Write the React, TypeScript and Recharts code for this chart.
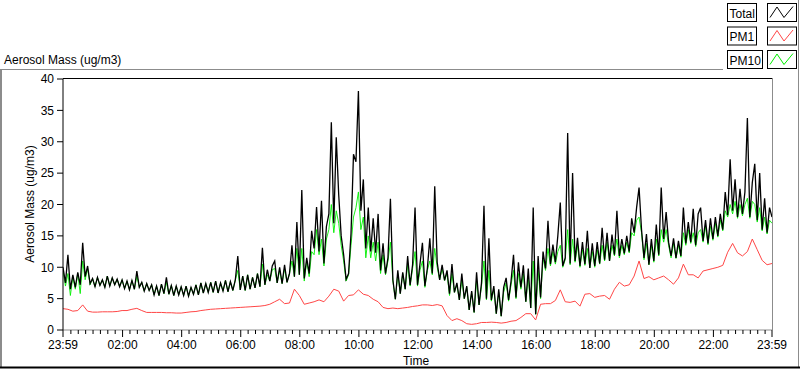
import React from "react";
import { LineChart, Line, XAxis, YAxis } from "recharts";

// Total mass, 5-minute steps from 23:59 (t = 0) to 23:59 (t = 1440)
const TOTAL: number[] = [
  10, 7.5, 12, 6.5, 8.8, 6.8, 9.2, 7.2, 13.9, 8.5, 10.2, 7.4,
  8.2, 6.9, 8.4, 7.1, 8.0, 6.8, 8.6, 7.0, 8.3, 7.2, 8.1, 6.9,
  8.0, 6.6, 7.8, 6.4, 7.9, 6.5, 9.4, 6.8, 7.6, 6.2, 7.4, 6.3,
  7.2, 5.6, 7.0, 5.5, 7.3, 5.8, 8.4, 5.7, 7.1, 5.5, 7.0, 5.6,
  6.9, 5.5, 7.0, 5.4, 6.8, 5.7, 7.2, 5.6, 7.5, 5.9, 7.4, 6.0,
  7.6, 6.0, 7.8, 5.9, 7.5, 6.2, 7.9, 6.1, 7.7, 6.3, 8.0, 11.8,
  6.4, 8.6, 6.3, 8.8, 6.5, 8.4, 6.7, 9.0, 6.9, 13.1, 7.2, 9.6,
  7.8, 10.2, 11.0, 7.5, 10.0, 7.4, 10.4, 7.6, 9.0, 13.5, 8.5, 17.2,
  8.8, 22.3, 8.2, 11.5, 9.0, 15.8, 13.0, 19.6, 12.5, 20.6, 10.6, 16.5,
  18.5, 33.1, 17.0, 30.7, 21.5, 15.0, 12.0, 8.1, 9.0, 15.4, 28.0, 26.8,
  38.1, 19.0, 24.0, 13.0, 19.5, 12.5, 17.8, 12.3, 18.5, 9.5, 13.8, 9.0,
  11.5, 20.9, 8.0, 4.9, 9.5, 5.8, 9.2, 6.5, 11.8, 7.2, 10.4, 19.5,
  7.2, 10.5, 13.9, 7.0, 9.8, 14.6, 9.0, 22.9, 10.8, 8.0, 10.4, 7.9,
  9.5, 5.8, 10.5, 6.0, 7.5, 4.8, 9.0, 5.0, 7.0, 3.2, 6.2, 2.8,
  9.2, 4.0, 7.5, 19.8, 5.0, 14.6, 4.8, 7.0, 2.6, 6.5, 2.2, 6.8,
  8.3, 4.8, 7.8, 12.0, 5.2, 10.8, 6.8, 10.3, 4.5, 9.8, 3.5, 19.5,
  2.5, 11.8, 5.2, 12.5, 9.8, 17.4, 10.5, 13.6, 10.8, 15.0, 20.3, 10.2,
  11.5, 31.4, 10.6, 25.0, 11.0, 14.7, 10.2, 14.0, 10.5, 15.8, 9.9, 13.8,
  10.2, 14.0, 10.6, 16.3, 11.2, 15.5, 11.0, 15.2, 12.0, 19.0, 11.8, 14.5,
  12.2, 15.0, 12.5, 17.8, 15.5, 19.5, 22.7, 16.0, 11.5, 15.3, 10.4, 14.5,
  11.0, 16.8, 12.0, 22.7, 14.5, 18.8, 14.0, 11.8, 14.6, 11.5, 14.2, 11.8,
  19.5, 13.8, 17.2, 14.0, 19.3, 13.5, 18.5, 19.5, 14.2, 17.5, 13.8, 17.8,
  14.5, 18.0, 15.0, 18.5, 16.0, 22.0, 18.3, 27.2, 19.0, 24.0, 18.0, 22.5,
  18.5, 22.0, 33.8, 18.0, 23.5, 26.5, 17.5, 25.0, 16.0, 21.0, 15.5, 19.5, 18.0,
];

// PM10, 5-minute steps (mostly hidden under Total, lower at the spikes)
const PM10: number[] = [
  9.5, 7.0, 9.0, 5.5, 8.5, 6.5, 9.0, 5.8, 11.0, 8.0, 9.8, 7.2,
  8.2, 6.9, 8.4, 7.1, 8.0, 6.8, 8.6, 7.0, 8.3, 7.2, 8.1, 6.9,
  8.0, 6.6, 7.8, 6.4, 7.9, 6.5, 8.6, 6.8, 7.6, 6.2, 7.4, 6.3,
  7.2, 5.6, 7.0, 5.5, 7.3, 5.8, 7.6, 5.7, 7.1, 5.5, 7.0, 5.6,
  6.9, 5.5, 7.0, 5.4, 6.8, 5.7, 7.2, 5.6, 7.5, 5.9, 7.4, 6.0,
  7.6, 6.0, 7.8, 5.9, 7.5, 6.2, 7.9, 6.1, 7.7, 6.3, 8.0, 9.5,
  6.4, 8.6, 6.3, 8.8, 6.5, 8.4, 6.7, 9.0, 6.9, 10.5, 7.2, 8.8,
  7.8, 9.6, 9.8, 7.5, 9.5, 7.4, 9.8, 7.6, 9.0, 11.0, 8.5, 13.0,
  8.8, 13.0, 7.8, 11.0, 8.5, 12.5, 12.0, 16.0, 12.0, 14.5, 10.2, 14.5,
  16.0, 20.0, 15.5, 19.0, 17.0, 13.5, 11.0, 7.8, 8.8, 13.5, 18.0, 19.5,
  22.0, 16.0, 18.0, 11.5, 15.0, 11.5, 14.0, 11.0, 14.0, 9.0, 12.0, 8.8,
  11.0, 14.0, 7.8, 4.9, 9.0, 5.8, 9.0, 6.5, 10.5, 7.0, 9.8, 12.5,
  7.0, 9.5, 11.0, 6.8, 9.5, 11.0, 8.8, 13.0, 10.0, 8.0, 9.8, 7.9,
  9.0, 5.5, 9.0, 6.0, 7.2, 4.8, 8.0, 5.0, 6.8, 3.2, 6.0, 2.8,
  8.0, 4.0, 7.0, 11.0, 4.8, 9.5, 4.6, 6.5, 2.6, 6.0, 2.2, 6.0,
  7.5, 4.6, 7.2, 9.5, 5.0, 9.0, 6.5, 9.0, 4.5, 8.5, 3.5, 11.0,
  2.5, 9.5, 5.0, 11.5, 9.5, 13.0, 10.2, 12.5, 10.5, 12.5, 13.5, 10.0,
  11.2, 16.0, 10.4, 14.5, 10.8, 13.5, 10.0, 12.8, 10.3, 13.0, 9.9, 12.5,
  10.0, 12.8, 10.5, 13.5, 11.0, 14.0, 11.0, 13.5, 11.8, 14.5, 11.5, 13.5,
  12.0, 14.0, 12.3, 15.5, 15.0, 17.5, 18.0, 15.5, 11.2, 13.8, 10.4, 13.5,
  10.8, 14.5, 11.8, 16.0, 14.0, 16.0, 13.5, 11.5, 13.8, 11.4, 13.5, 11.6,
  15.5, 13.5, 16.0, 13.8, 15.5, 13.3, 15.5, 16.0, 14.0, 16.5, 13.6, 16.5,
  14.3, 17.0, 14.8, 17.5, 15.8, 19.0, 18.0, 20.0, 18.5, 20.5, 17.8, 20.0,
  18.2, 20.0, 21.0, 17.8, 20.5, 20.0, 17.2, 19.5, 15.8, 18.0, 15.3, 17.5, 17.0,
];

// PM1, 10-minute steps
const PM1: number[] = [
  3.4, 3.3, 3.0, 3.1, 4.0, 3.0,
  2.85, 2.85, 2.9, 2.9, 2.9, 2.95,
  3.1, 3.1, 3.3, 3.45, 3.1, 2.8,
  2.8, 2.8, 2.8, 2.75, 2.75, 2.7,
  2.7, 2.8, 2.9, 2.95, 3.1, 3.2,
  3.3, 3.35, 3.4, 3.45, 3.5, 3.55,
  3.6, 3.65, 3.7, 3.75, 3.8, 3.9,
  4.1, 4.5, 4.9, 4.2, 4.3, 6.5,
  5.5, 4.1, 4.3, 4.5, 4.8, 4.5,
  5.4, 6.5, 6.2, 4.6, 5.5, 5.6,
  6.4, 5.7, 5.5, 4.9, 4.5, 3.6,
  3.4, 3.5, 3.4, 3.5, 3.6, 3.75,
  3.85, 4.0, 4.0, 3.9, 4.05, 3.85,
  2.3, 1.5, 1.8, 1.5, 1.0, 0.9,
  1.0, 1.2, 1.2, 1.25, 1.2, 1.1,
  1.2, 1.4, 1.5, 2.0, 2.6, 2.6,
  1.6, 4.1, 4.2, 4.2, 4.7, 6.4,
  4.5, 4.4, 4.6, 3.8, 5.7, 5.8,
  5.2, 5.4, 5.5, 4.9, 6.5, 7.6,
  7.0, 7.2, 8.6, 11.0, 8.2, 8.5,
  8.0, 8.3, 8.6, 8.0, 7.3, 8.3,
  10.5, 8.8, 8.8, 8.3, 9.4, 9.6,
  9.8, 10.0, 10.3, 12.4, 13.8, 12.3,
  11.8, 12.5, 14.5, 12.8, 11.1, 10.4, 10.6,
];

const MAJOR_TICKS: number[] = [0, 121, 241, 361, 481, 601, 721, 841, 961, 1081, 1201, 1321, 1440];
const MAJOR_LABELS: string[] = ["23:59", "02:00", "04:00", "06:00", "08:00", "10:00", "12:00", "14:00", "16:00", "18:00", "20:00", "22:00", "23:59"];
const MINOR_STEP = 15;
const Y_TICKS: number[] = [0, 5, 10, 15, 20, 25, 30, 35, 40];
const LEGEND_NAMES: string[] = ["Total", "PM1", "PM10"];
const COLORS: string[] = ["#000000", "#ff4646", "#00ee00"];

const FONT = "'Liberation Sans', Arial, sans-serif";

const totalData = TOTAL.map((v, i) => ({ t: i * 5, v }));
const pm10Data = PM10.map((v, i) => ({ t: i * 5, v }));
const pm1Data = PM1.map((v, i) => ({ t: i * 10, v }));

const allTicks: number[] = (() => {
  const s = new Set<number>(MAJOR_TICKS);
  for (let m = MINOR_STEP; m < 1440; m += MINOR_STEP) s.add(m + 1);
  return Array.from(s).sort((a, b) => a - b);
})();

const XTick = (props: any) => {
  const { x, y, payload } = props;
  const idx = MAJOR_TICKS.indexOf(payload.value);
  const major = idx >= 0;
  return (
    <g>
      <line x1={x} x2={x} y1={y} y2={y + (major ? 7 : 4)} stroke="#000" strokeWidth={1} />
      {major && (
        <text x={x} y={y + 19} textAnchor="middle" fontSize={12} fontFamily={FONT} fill="#000">
          {MAJOR_LABELS[idx]}
        </text>
      )}
    </g>
  );
};

export default function App() {
  const legendRows = LEGEND_NAMES.map((name, i) => {
    const top = 3.5 + i * 23.5;
    const boxW = name === "PM10" ? 35 : 29;
    return (
      <g key={name}>
        <rect x={727.5} y={top} width={boxW} height={18} fill="#fff" stroke="#000" />
        <text x={729.5} y={top + 14} fontSize={12} fontFamily={FONT} fill="#000">
          {name}
        </text>
        <rect x={767.5} y={top} width={29} height={18} fill="#fff" stroke="#000" />
        <polyline
          points={`770,${top + 14} 777,${top + 3.5} 784,${top + 14} 793,${top + 3}`}
          fill="none"
          stroke={COLORS[i]}
          strokeWidth={1}
        />
      </g>
    );
  });

  return (
    <div style={{ position: "absolute", left: 0, top: 0, width: 800, height: 369, background: "#fff" }}>
      <LineChart
        width={800}
        height={369}
        margin={{ top: 79, right: 28, bottom: 9, left: 3 }}
      >
        <XAxis
          type="number"
          dataKey="t"
          domain={[0, 1440]}
          ticks={allTicks}
          interval={0}
          tickSize={0}
          tickMargin={0}
          tickLine={false}
          axisLine={{ stroke: "#8c8c8c" }}
          tick={<XTick />}
          height={30}
          allowDataOverflow
        />
        <YAxis
          type="number"
          domain={[0, 40]}
          ticks={Y_TICKS}
          interval={0}
          width={60}
          tickSize={6}
          tickMargin={3}
          axisLine={{ stroke: "#000" }}
          tickLine={{ stroke: "#000" }}
          tick={{ fill: "#000", fontSize: 12, fontFamily: FONT }}
          allowDataOverflow
        />
        <Line data={pm10Data} dataKey="v" type="linear" stroke={COLORS[2]} strokeWidth={0.9} dot={false} isAnimationActive={false} />
        <Line data={totalData} dataKey="v" type="linear" stroke={COLORS[0]} strokeWidth={1.3} dot={false} isAnimationActive={false} />
        <Line data={pm1Data} dataKey="v" type="linear" stroke={COLORS[1]} strokeWidth={1} dot={false} isAnimationActive={false} />
      </LineChart>
      <svg width={800} height={369} style={{ position: "absolute", left: 0, top: 0, pointerEvents: "none" }}>
        <line x1={63} x2={772} y1={78.5} y2={78.5} stroke="#000" />
        <line x1={772.5} x2={772.5} y1={78} y2={330} stroke="#8c8c8c" />
        <line x1={0} x2={723} y1={69.5} y2={69.5} stroke="#8c8c8c" />
        <line x1={1} x2={1} y1={69} y2={367} stroke="#8c8c8c" strokeWidth={2} />
        <line x1={798.5} x2={798.5} y1={0} y2={367} stroke="#8c8c8c" />
        <line x1={0} x2={800} y1={367.5} y2={367.5} stroke="#000" strokeWidth={2} />
        <text x={4} y={64} fontSize={12} fontFamily={FONT} fill="#000">
          Aerosol Mass (ug/m3)
        </text>
        <text
          x={31}
          y={204}
          fontSize={12}
          fontFamily={FONT}
          fill="#000"
          textAnchor="middle"
          transform="rotate(-90 31 204)"
          dominantBaseline="middle"
        >
          Aerosol Mass (ug/m3)
        </text>
        <text x={416} y={365} fontSize={12} fontFamily={FONT} fill="#000" textAnchor="middle">
          Time
        </text>
        {legendRows}
      </svg>
    </div>
  );
}
